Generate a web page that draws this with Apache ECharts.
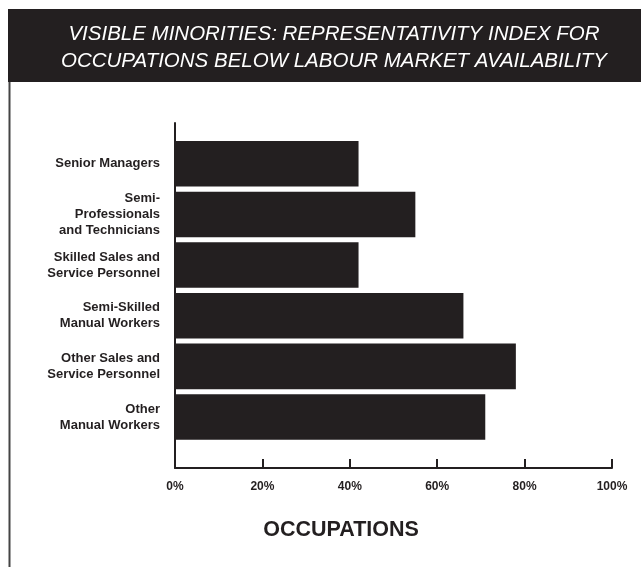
<!DOCTYPE html>
<html>
<head>
<meta charset="utf-8">
<script src="https://cdn.jsdelivr.net/npm/echarts@6/dist/echarts.min.js"></script>
<style>
html,body{margin:0;padding:0;background:#fff;}
#chart{width:641px;height:567px;}
</style>
</head>
<body>
<div id="chart"></div>
<script>
var titleText = 'VISIBLE MINORITIES: REPRESENTATIVITY INDEX FOR\nOCCUPATIONS BELOW LABOUR MARKET AVAILABILITY';
var axisTitle = 'OCCUPATIONS';
var categories = [
  'Senior Managers',
  'Semi-\nProfessionals\nand Technicians',
  'Skilled Sales and\nService Personnel',
  'Semi-Skilled\nManual Workers',
  'Other Sales and\nService Personnel',
  'Other\nManual Workers'
];
var values = [42, 55, 42, 66, 78, 71];
var xMin = 0, xMax = 100, xStep = 20;

var dark = '#231f20';
var chart = echarts.init(document.getElementById('chart'), null, {renderer: 'canvas'});
chart.setOption({
  backgroundColor: '#ffffff',
  animation: false,
  graphic: [
    {type: 'rect', z: -10, shape: {x: 8, y: 9, width: 633, height: 73}, style: {fill: dark}},
    {type: 'line', z: -10, shape: {x1: 9.5, y1: 82, x2: 9.5, y2: 567}, style: {stroke: '#444', lineWidth: 2}}
  ],
  title: [
    {
      text: titleText, left: 329, top: 16, textAlign: 'center',
      textStyle: {color: '#ffffff', fontFamily: 'Liberation Sans', fontStyle: 'italic', fontWeight: 'normal', fontSize: 20.5, lineHeight: 27}
    },
    {
      text: axisTitle, left: 336, top: 513, textAlign: 'center',
      textStyle: {color: dark, fontFamily: 'Liberation Sans', fontWeight: 'bold', fontSize: 21.5, lineHeight: 24}
    }
  ],
  grid: [
    {left: 175, right: 29, top: 123, bottom: 99, containLabel: false},
    {left: 175, right: 29, top: 138.5, bottom: 124.7, containLabel: false}
  ],
  xAxis: [
    {
      gridIndex: 0, type: 'value', min: xMin, max: xMax, interval: xStep,
      axisLine: {show: true, lineStyle: {color: dark, width: 2}},
      axisTick: {show: true, inside: true, length: 9, lineStyle: {color: dark, width: 2}},
      splitLine: {show: false},
      axisLabel: {formatter: '{value}%', color: dark, fontFamily: 'Liberation Sans', fontWeight: 'bold', fontSize: 12, margin: 13}
    },
    {
      gridIndex: 1, type: 'value', min: xMin, max: xMax, show: false
    }
  ],
  yAxis: [
    {
      gridIndex: 0, type: 'value', min: 0, max: 1,
      axisLine: {show: true, lineStyle: {color: dark, width: 2}},
      axisTick: {show: false}, axisLabel: {show: false}, splitLine: {show: false}
    },
    {
      gridIndex: 1, type: 'category', data: categories, inverse: true,
      axisLine: {show: false}, axisTick: {show: false}, splitLine: {show: false},
      axisLabel: {color: dark, fontFamily: 'Liberation Sans', fontWeight: 'bold', fontSize: 13, lineHeight: 16, margin: 15, align: 'right'}
    }
  ],
  series: [
    {
      type: 'bar', xAxisIndex: 1, yAxisIndex: 1, data: values,
      barCategoryGap: '10%',
      itemStyle: {color: dark},
      silent: true
    }
  ]
});
</script>
</body>
</html>
